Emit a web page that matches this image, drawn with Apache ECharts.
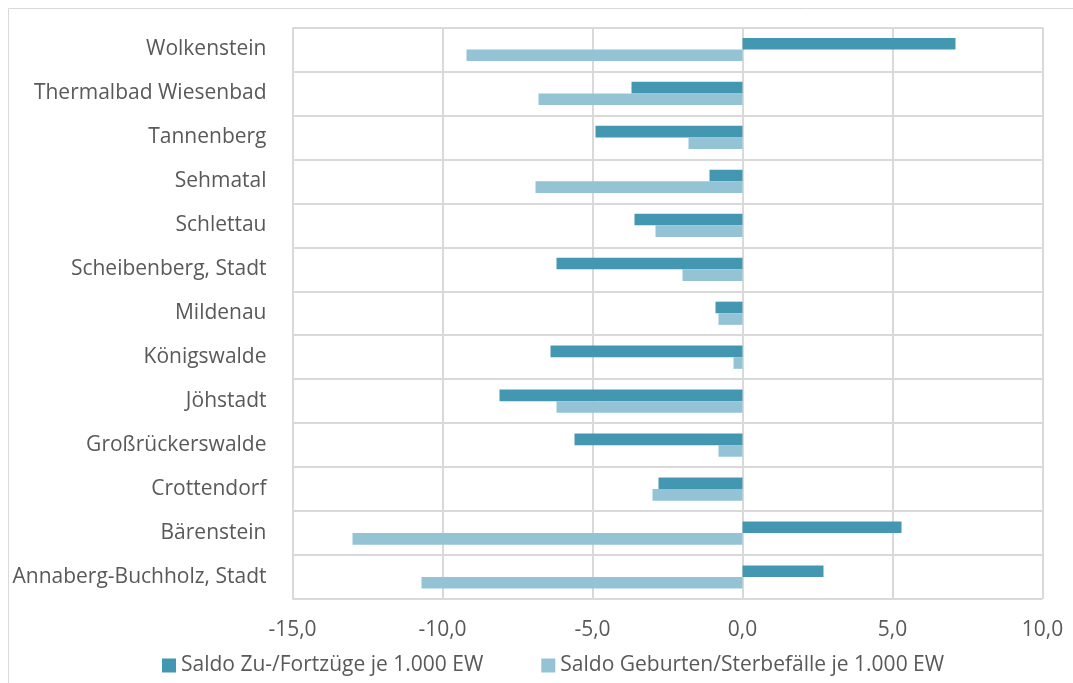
<!DOCTYPE html>
<html>
<head>
<meta charset="utf-8">
<script src="https://cdn.jsdelivr.net/npm/echarts@6/dist/echarts.min.js"></script>
<style>
  html, body { margin: 0; padding: 0; background: #fff; }
  #chart { width: 1073px; height: 683px; }
</style>
</head>
<body>
<div id="chart"></div>
<script>
// Gemeinden (top to bottom)
const categories = [
  'Wolkenstein', 'Thermalbad Wiesenbad', 'Tannenberg', 'Sehmatal', 'Schlettau',
  'Scheibenberg, Stadt', 'Mildenau', 'Königswalde', 'Jöhstadt',
  'Großrückerswalde', 'Crottendorf', 'Bärenstein', 'Annaberg-Buchholz, Stadt'
];
// Saldo Zu-/Fortzüge je 1.000 EW
const migration = [7.1, -3.7, -4.9, -1.1, -3.6, -6.2, -0.9, -6.4, -8.1, -5.6, -2.8, 5.3, 2.7];
// Saldo Geburten/Sterbefälle je 1.000 EW
const natural = [-9.2, -6.8, -1.8, -6.9, -2.9, -2.0, -0.8, -0.3, -6.2, -0.8, -3.0, -13.0, -10.7];
const seriesNames = ['Saldo Zu-/Fortzüge je 1.000 EW', 'Saldo Geburten/Sterbefälle je 1.000 EW'];
const xTicks = { min: -15, max: 10, interval: 5 };

const textColor = '#595959';
const gridColor = '#D9D9D9';
const font = '"Open Sans", Lato, sans-serif';
const fontSize = 21;

const chart = echarts.init(document.getElementById('chart'), null, { renderer: 'canvas' });
chart.setOption({
  backgroundColor: '#fff',
  animation: false,
  textStyle: { fontFamily: font, color: textColor },
  graphic: [{
    type: 'rect',
    shape: { x: 8.5, y: 8.5, width: 1100, height: 700 },
    style: { fill: 'none', stroke: gridColor, lineWidth: 1 },
    silent: true
  }],
  grid: { left: 292.5, right: 30.5, top: 27.5, bottom: 84, containLabel: false },
  legend: {
    left: 157, top: 650,
    icon: 'rect', itemWidth: 14, itemHeight: 14, itemGap: 58,
    textStyle: { fontFamily: font, fontSize: fontSize, color: textColor },
    data: seriesNames
  },
  xAxis: {
    type: 'value',
    min: xTicks.min, max: xTicks.max, interval: xTicks.interval,
    axisLine: { show: false }, axisTick: { show: false },
    splitLine: { lineStyle: { color: gridColor, width: 2 } },
    axisLabel: {
      fontFamily: font, fontSize: fontSize, color: textColor, margin: 21,
      formatter: v => v.toFixed(1).replace('.', ',')
    }
  },
  yAxis: {
    type: 'category', data: categories, inverse: true,
    axisLine: { show: false }, axisTick: { show: false },
    splitLine: { show: true, lineStyle: { color: gridColor, width: 2 } },
    axisLabel: { fontFamily: font, fontSize: fontSize, color: textColor, margin: 26 }
  },
  series: [
    { name: seriesNames[0], type: 'bar', data: migration, barWidth: 11.6, barGap: '0%',
      itemStyle: { color: '#4397B0' } },
    { name: seriesNames[1], type: 'bar', data: natural, barWidth: 11.6, barGap: '0%',
      itemStyle: { color: '#93C3D5' } }
  ]
});
</script>
</body>
</html>
